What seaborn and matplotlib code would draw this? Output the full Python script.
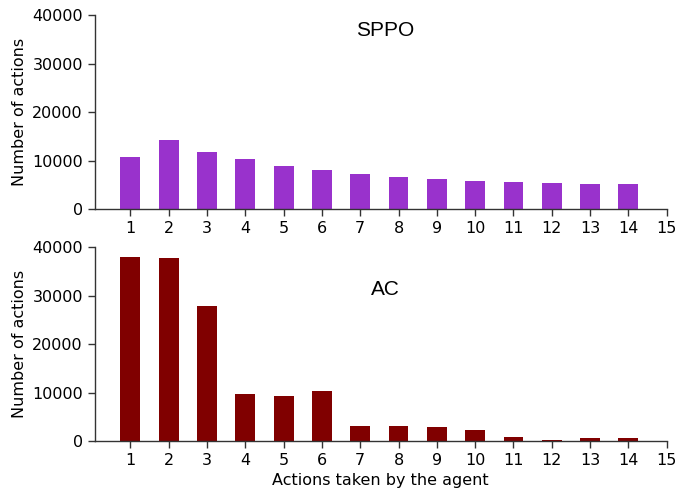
import matplotlib
matplotlib.use("Agg")
import matplotlib.pyplot as plt
import seaborn as sns
import pandas as pd

actions = list(range(1, 15))
sppo_counts = [10660, 14160, 11690, 10250, 8800, 7980, 7150,
               6540, 6120, 5710, 5500, 5300, 5090, 5090]
ac_counts = [38000, 37800, 27900, 9700, 9300, 10330, 3100,
             3100, 2900, 2270, 830, 250, 620, 620]
x_ticks = list(range(1, 16))
y_ticks = [0, 10000, 20000, 30000, 40000]

sns.set_style("ticks")
plt.rcParams["font.family"] = ["DejaVu Sans"]
plt.rcParams["text.color"] = "black"
plt.rcParams["axes.labelcolor"] = "black"

fig = plt.figure(figsize=(6.77, 4.92), dpi=100)
ax_top = fig.add_axes([0.1399, 0.5752, 0.8449, 0.3943])
ax_bot = fig.add_axes([0.1399, 0.1037, 0.8449, 0.3936])

panels = [
    (ax_top, sppo_counts, "#9932CC", "SPPO", 0.918),
    (ax_bot, ac_counts, "#800000", "AC", 0.78),
]

for ax, counts, color, name, ty in panels:
    df = pd.DataFrame({"action": actions, "count": counts})
    sns.barplot(data=df, x="action", y="count", native_scale=True,
                color=color, width=0.52, saturation=1, linewidth=0,
                ax=ax, errorbar=None)
    ax.set_xlim(0.07, 15)
    ax.set_ylim(0, 40000)
    ax.set_xticks(x_ticks)
    ax.set_xticklabels([str(t) for t in x_ticks])
    ax.set_yticks(y_ticks)
    ax.set_yticklabels([str(t) for t in y_ticks])
    ax.tick_params(labelsize=11.5, length=5, width=1, colors="#333333",
                   labelcolor="black")
    for side in ("left", "bottom"):
        ax.spines[side].set_color("#333333")
        ax.spines[side].set_linewidth(1)
    for side in ("top", "right"):
        ax.spines[side].set_visible(False)
    ax.set_ylabel("Number of actions", fontsize=11.5, color="black")
    ax.set_xlabel("")
    ax.text(0.508, ty, name, transform=ax.transAxes, ha="center",
            va="center", fontsize=15, family="Liberation Sans",
            color="black")

ax_bot.set_xlabel("Actions taken by the agent", fontsize=11.5, color="black")

fig.savefig("out.png", dpi=100)
